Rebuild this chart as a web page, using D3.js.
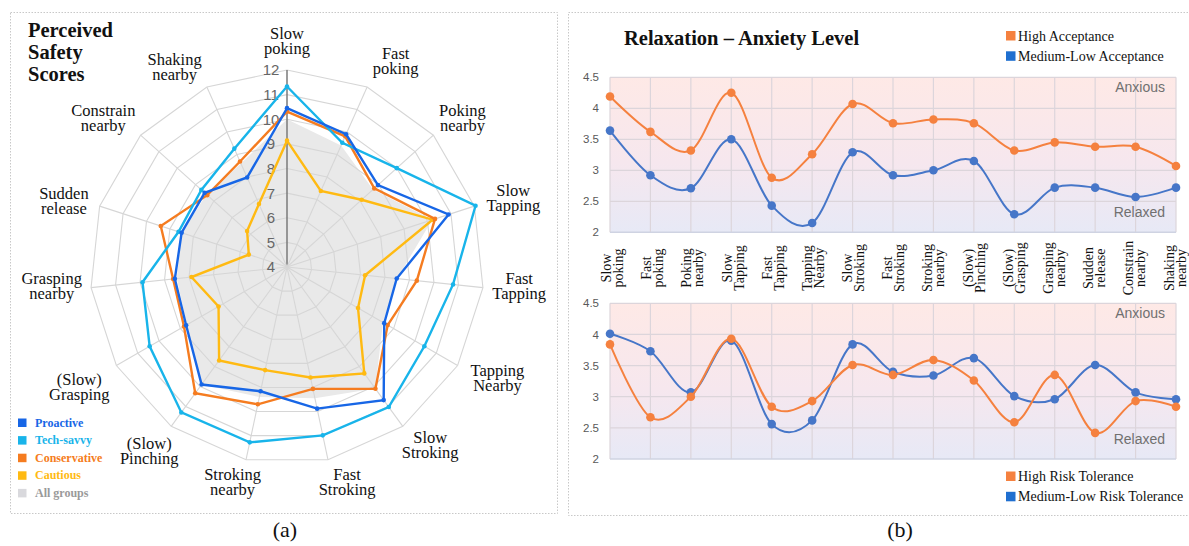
<!DOCTYPE html>
<html><head><meta charset="utf-8">
<script src="https://cdn.jsdelivr.net/npm/d3@7"></script>
<style>
html,body{margin:0;padding:0;background:#fff;}
svg{display:block;}
</style></head>
<body>
<svg id="chart" width="1189" height="546"></svg>
<script>
// ---------- DATA ----------
const categories = ["Slow\npoking","Fast\npoking","Poking\nnearby","Slow\nTapping","Fast\nTapping","Tapping\nNearby","Slow\nStroking","Fast\nStroking","Stroking\nnearby","(Slow)\nPinching","(Slow)\nGrasping","Grasping\nnearby","Sudden\nrelease","Constrain\nnearby","Shaking\nnearby"];
const radarTicks = [4,5,6,7,8,9,10,11,12];
const groupNames = ["Proactive","Tech-savvy","Conservative","Cautious","All groups"];
const proactive    = [10.45, 9.9, 8.97, 10.9, 8.48, 8.56, 10.68, 9.88, 9.16, 9.9, 8.73, 8.58, 8.5, 8.5, 7.98];
const techSavvy    = [11.33, 9.52, 10.0, 12.05, 10.78, 10.44, 11.03, 10.99, 11.28, 11.3, 10.44, 9.9, 8.63, 8.68, 9.26];
const conservative = [10.31, 9.81, 8.77, 10.32, 9.3, 8.72, 10.11, 9.06, 9.7, 10.34, 8.83, 8.65, 9.39, 8.36, 8.69];
const cautious     = [9.13, 7.38, 8.08, 10.22, 7.19, 7.33, 9.34, 8.59, 8.28, 8.69, 7.21, 7.9, 5.63, 6.18, 6.8];
const allGroups    = [10.0, 9.4, 8.7, 10.2, 8.5, 8.5, 10.1, 9.45, 9.4, 9.9, 8.7, 8.5, 8.5, 8.4, 8.6];

const lineTicks = [2, 2.5, 3, 3.5, 4, 4.5];
const highAcceptance   = [4.19, 3.62, 3.32, 4.25, 2.88, 3.26, 4.07, 3.76, 3.82, 3.76, 3.32, 3.45, 3.38, 3.38, 3.07];
const medLowAcceptance = [3.64, 2.92, 2.71, 3.5, 2.43, 2.15, 3.29, 2.92, 3.0, 3.15, 2.29, 2.72, 2.72, 2.57, 2.72];
const highRisk         = [3.84, 2.67, 3.0, 3.93, 2.84, 2.93, 3.51, 3.35, 3.59, 3.26, 2.59, 3.35, 2.42, 2.93, 2.84];
const medLowRisk       = [4.01, 3.73, 3.07, 3.9, 2.56, 2.62, 3.84, 3.4, 3.34, 3.62, 3.01, 2.96, 3.51, 3.07, 2.96];

// ---------- LAYOUT (label placement around the radar, polar: angle nudge in degrees, radius in px) ----------
const labelAngleNudge = [0, 4, 1.9, 1.3, -1, -1.8, -2.6, -3.5, 2.1, 0.6, -0.3, 1, -1.8, -3.2, -5.5];
const labelRadius = [224.5, 231.4, 229.4, 236.3, 233.1, 238.8, 229.5, 224.9, 223.4, 231.1, 240.6, 236.2, 232.3, 235.7, 228.2];

// ---------- STYLE ----------
const SERIF = "'Liberation Serif','Times New Roman',serif";
const SANS = "'Liberation Sans',Arial,sans-serif";
const cProactive = "#1766e6", cTech = "#18b4ea", cCons = "#f57c20", cCaut = "#ffba12", cAll = "#e9e9e9";
const cOrange = "#f5813f", cBlue = "#4676c8";

const svg = d3.select("#chart");

// panel frames
svg.append("rect").attr("x",10.5).attr("y",12.5).attr("width",547).attr("height",501)
  .attr("fill","none").attr("stroke","#c8c8c8").attr("stroke-dasharray","1.5,1.5");
svg.append("rect").attr("x",568.5).attr("y",12.5).attr("width",640).attr("height",503)
  .attr("fill","none").attr("stroke","#c8c8c8").attr("stroke-dasharray","1.5,1.5");

// ---------- RADAR ----------
const cx = 287, cy = 267;
const rScale = d3.scaleLinear().domain([4,12]).range([0,197]);
const n = categories.length;
const ang = i => i * 2 * Math.PI / n;
const pt = (i, v) => [cx + rScale(v) * Math.sin(ang(i)), cy - rScale(v) * Math.cos(ang(i))];
const radar = svg.append("g");

const polyLine = d3.line().curve(d3.curveLinearClosed);

// all-groups fill
radar.append("path").attr("d", polyLine(allGroups.map((v,i)=>pt(i,v))))
  .attr("fill", cAll).attr("stroke","none");

// rings
radarTicks.slice(1).forEach(t => {
  radar.append("path").attr("d", polyLine(categories.map((c,i)=>pt(i,t))))
    .attr("fill","none").attr("stroke","#d6d6d6").attr("stroke-width",1.1);
});
// spokes
categories.forEach((c,i) => {
  const p = pt(i,12);
  radar.append("line").attr("x1",cx).attr("y1",cy).attr("x2",p[0]).attr("y2",p[1])
    .attr("stroke", i===0 ? "#7a7a7a" : "#d6d6d6").attr("stroke-width", i===0 ? 1.5 : 1.1);
});
// tick labels
radarTicks.forEach(t => {
  radar.append("text").attr("x", cx-16).attr("y", cy - rScale(t)).attr("dy","0.36em")
    .attr("text-anchor","middle").attr("font-family",SANS).attr("font-size",15)
    .attr("fill","#666").text(t);
});
// category labels
categories.forEach((c,i) => {
  const lines = c.split("\n");
  const a = ang(i) + labelAngleNudge[i] * Math.PI / 180;
  const rr = labelRadius[i];
  const x = cx + rr*Math.sin(a), y = cy - rr*Math.cos(a) - 1;
  const t = radar.append("text").attr("text-anchor","middle").attr("font-family",SERIF)
    .attr("font-size",16.5).attr("fill","#111");
  lines.forEach((l,k) => t.append("tspan").attr("x",x).attr("y", y + (k - (lines.length-1)/2)*15 + 5).text(l));
});
// series
const radarSeries = [[cautious,cCaut],[conservative,cCons],[techSavvy,cTech],[proactive,cProactive]];
radarSeries.forEach(([vals,col]) => {
  const pts = vals.map((v,i)=>pt(i,v));
  radar.append("path").attr("d", polyLine(pts)).attr("fill","none")
    .attr("stroke",col).attr("stroke-width",2.4).attr("stroke-linejoin","miter");
  radar.selectAll(null).data(pts).enter().append("circle")
    .attr("cx",d=>d[0]).attr("cy",d=>d[1]).attr("r",2.3).attr("fill",col);
});
// title
const ttl = svg.append("text").attr("font-family",SERIF).attr("font-weight","bold")
  .attr("font-size",20.5).attr("fill","#111");
["Perceived","Safety","Scores"].forEach((l,k)=> ttl.append("tspan").attr("x",28).attr("y",37+k*22).text(l));
// legend
const legCols = [cProactive,cTech,cCons,cCaut,"#d9d9dd"];
const legText = [cProactive,cTech,cCons,cCaut,"#9a9a9a"];
groupNames.forEach((g,k)=>{
  const y = 426.5 + k*17.6;
  svg.append("rect").attr("x",18).attr("y",y-8).attr("width",8.5).attr("height",8.5).attr("fill",legCols[k]);
  svg.append("text").attr("x",35).attr("y",y).attr("font-family",SERIF).attr("font-weight","bold")
    .attr("font-size",12).attr("fill",legText[k]).text(g);
});
svg.append("text").attr("x",285).attr("y",537).attr("text-anchor","middle").attr("font-family",SERIF)
  .attr("font-size",22).attr("fill","#111").text("(a)");

// ---------- LINE CHARTS ----------
const defs = svg.append("defs");
const grad = defs.append("linearGradient").attr("id","bg").attr("x1",0).attr("y1",0).attr("x2",0).attr("y2",1);
grad.append("stop").attr("offset","0%").attr("stop-color","#fee9e6");
grad.append("stop").attr("offset","55%").attr("stop-color","#f6e7ee");
grad.append("stop").attr("offset","100%").attr("stop-color","#e7e9f6");

const xScale = d3.scalePoint().domain(categories).range([610,1176]);
const curve = d3.curveCatmullRom.alpha(0);

function drawPanel(top, bottom, s1, s2, c1, c2, order) {
  const y = d3.scaleLinear().domain([2,4.5]).range([bottom, top]);
  const g = svg.append("g");
  g.append("rect").attr("x",610).attr("y",top).attr("width",566).attr("height",bottom-top).attr("fill","url(#bg)");
  lineTicks.slice(1).forEach(t => g.append("line").attr("x1",610).attr("x2",1176)
    .attr("y1",y(t)).attr("y2",y(t)).attr("stroke","#dcd5db").attr("stroke-width",1.2));
  categories.forEach(c => g.append("line").attr("x1",xScale(c)).attr("x2",xScale(c))
    .attr("y1",top).attr("y2",bottom).attr("stroke","#dcd5db").attr("stroke-width",1.2));
  g.append("line").attr("x1",610).attr("x2",1176).attr("y1",bottom).attr("y2",bottom)
    .attr("stroke","#cfd3e2").attr("stroke-width",1.5);
  const ax = g.append("g").attr("transform","translate(599,0)")
    .call(d3.axisLeft(y).tickValues(lineTicks).tickSize(0).tickPadding(0).tickFormat(d3.format("")));
  ax.select(".domain").remove();
  ax.selectAll("text").attr("font-family",SANS).attr("font-size",11.5).attr("fill","#595959");
  g.append("text").attr("x",1165).attr("y",y(4.5)+14.5).attr("text-anchor","end").attr("font-family",SANS)
    .attr("font-size",14).attr("fill","#707070").text("Anxious");
  g.append("text").attr("x",1165).attr("y",y(2)-15).attr("text-anchor","end").attr("font-family",SANS)
    .attr("font-size",14).attr("fill","#707070").text("Relaxed");
  const series = order.map(k => k===0 ? [s1,c1] : [s2,c2]);
  series.forEach(([vals,col]) => {
    const line = d3.line().x((d,i)=>xScale(categories[i])).y(d=>y(d)).curve(curve);
    g.append("path").attr("d", line(vals)).attr("fill","none").attr("stroke",col).attr("stroke-width",2);
    g.selectAll(null).data(vals).enter().append("circle")
      .attr("cx",(d,i)=>xScale(categories[i])).attr("cy",d=>y(d)).attr("r",4.3).attr("fill",col);
  });
}
drawPanel(77.3, 232.3, highAcceptance, medLowAcceptance, cOrange, cBlue, [1,0]);
drawPanel(303.3, 459, highRisk, medLowRisk, cOrange, cBlue, [1,0]);

// x labels (rotated)
categories.forEach((c,i) => {
  const lines = c.split("\n");
  const t = svg.append("text").attr("transform",`translate(${xScale(c) + 3 - i*0.25},268) rotate(-90)`)
    .attr("text-anchor","middle").attr("font-family",SERIF).attr("font-size",14).attr("fill","#111");
  lines.forEach((l,k)=> t.append("tspan").attr("x",0).attr("y", -2 + k*12).text(l));
});

// title and legends
svg.append("text").attr("x",624).attr("y",44.5).attr("font-family",SERIF).attr("font-weight","bold")
  .attr("font-size",20.5).attr("fill","#111").text("Relaxation – Anxiety Level");
function legend(y0, labels) {
  [cOrange, "#1f6fd0"].forEach((col,k)=>{
    const y = y0 + k*20.3;
    svg.append("rect").attr("x",1006).attr("y",y-9.5).attr("width",9.5).attr("height",9.5).attr("fill",col);
    svg.append("text").attr("x",1018).attr("y",y).attr("font-family",SERIF).attr("font-size",14)
      .attr("fill","#111").text(labels[k]);
  });
}
legend(40.5, ["High Acceptance","Medium-Low Acceptance"]);
legend(481, ["High Risk Tolerance","Medium-Low Risk Tolerance"]);
svg.append("text").attr("x",900).attr("y",537).attr("text-anchor","middle").attr("font-family",SERIF)
  .attr("font-size",22).attr("fill","#111").text("(b)");
</script>
</body></html>
